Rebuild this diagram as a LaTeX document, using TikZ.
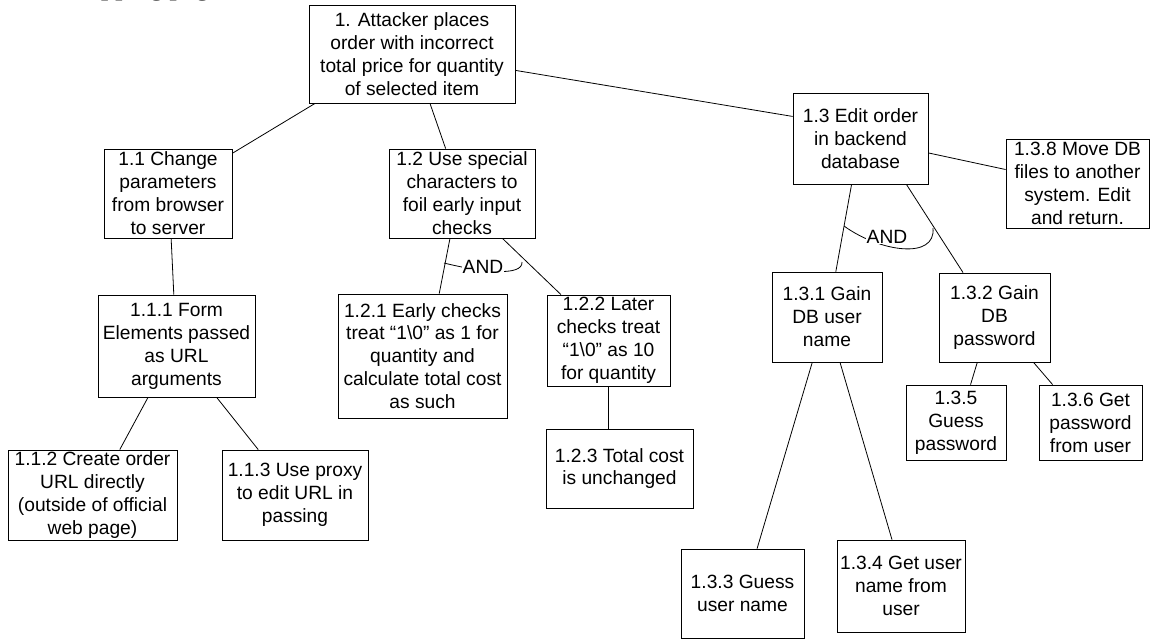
\documentclass[tikz,border=0pt]{standalone}
\usepackage{fontspec}
\setmainfont{Liberation Sans}
\newfontfamily\headfont{Liberation Serif}
\usetikzlibrary{positioning,calc}
\newcommand{\txt}{\fontsize{14.4}{17.2}\selectfont}

\begin{document}
\begin{tikzpicture}[x=0.75pt, y=-0.75pt, line width=0.6pt,
    box/.style={draw, align=center, inner sep=0pt, font=\txt},
    andlbl/.style={fill=white, inner sep=0.5pt, font=\txt}]
      \useasboundingbox (0,0) rectangle (1150,639);
      %heading, cut off at the top
      \node[anchor=base west, inner sep=0pt, font=\headfont\bfseries\fontsize{19}{22}\selectfont] (head) at (60,-4) {Shopping page};
      %nodes
      \node[box, minimum width=154.5pt, minimum height=73.5pt] (n1) at (412,54) {1. Attacker places\\order with incorrect\\total price for quantity\\of selected item};
      \node[box, minimum width=96pt, minimum height=66.75pt] (n11) at (168,193.5) {1.1 Change\\parameters\\from browser\\to server};
      \node[box, minimum width=117.75pt, minimum height=76.5pt] (n111) at (176.5,346) {1.1.1 Form\\Elements passed\\as URL\\arguments};
      \node[box, minimum width=126.75pt, minimum height=67.5pt] (n112) at (92.5,495) {1.1.2 Create order\\URL directly\\(outside of official\\web page)};
      \node[box, minimum width=109.5pt, minimum height=67.5pt] (n113) at (295,495) {1.1.3 Use proxy\\to edit URL in\\passing};
      \node[box, minimum width=109.5pt, minimum height=66.75pt] (n12) at (462,193.5) {1.2 Use special\\characters to\\foil early input\\checks};
      \node[box, minimum width=126.75pt, minimum height=93pt] (n121) at (422.5,356) {1.2.1 Early checks\\treat ``1\textbackslash 0'' as 1 for\\quantity and\\calculate total cost\\as such};
      \node[box, minimum width=92.25pt, minimum height=68.25pt] (n122) at (608.5,340.5) {1.2.2 Later\\checks treat\\``1\textbackslash 0'' as 10\\for quantity};
      \node[box, minimum width=110.25pt, minimum height=59.25pt] (n123) at (619.5,468.5) {1.2.3 Total cost\\is unchanged};
      \node[box, minimum width=101.25pt, minimum height=68.25pt] (n13) at (860.5,138.5) {1.3 Edit order\\in backend\\database};
      \node[box, minimum width=107.25pt, minimum height=66.75pt] (n138) at (1077.5,183.5) {1.3.8 Move DB\\files to another\\system.  Edit\\and return.};
      \node[box, minimum width=82.5pt, minimum height=67.5pt] (n131) at (827,317) {1.3.1 Gain\\DB user\\name};
      \node[box, minimum width=83.25pt, minimum height=66.75pt] (n132) at (994.5,317.5) {1.3.2 Gain\\DB\\password};
      \node[box, minimum width=92.25pt, minimum height=66.75pt] (n133) at (742.5,593.5) {1.3.3 Guess\\user name};
      \node[box, minimum width=96pt, minimum height=69pt] (n134) at (901,586) {1.3.4 Get user\\name from\\user};
      \node[box, minimum width=75pt, minimum height=56.25pt] (n135) at (956,422.5) {1.3.5\\Guess\\password};
      \node[box, minimum width=77.25pt, minimum height=56.25pt] (n136) at (1090.5,422.5) {1.3.6 Get\\password\\from user};
      %edges
      \path [draw] (n1.207) to (n11.32);
      \path [draw] (n1.290) to (n12.110);
      \path [draw] (n1.351) to (n13.162);
      \path [draw] (n11.274) to (n111.93);
      \path [draw] (n111.241) to (n112.59.5);
      \path [draw] (n111.308.5) to (n113.129.4);
      \path [draw] (n12.255) to (n121.75.1);
      \path [draw] (n12.312) to (n122.136.8);
      \path [draw] (n122.south) to (n122.south |- n123.north);
      \path [draw] (n13.259.4) to (n131.79.9);
      \path [draw] (n13.315.6) to (n132.125.3);
      \path [draw] (n13.348.7) to (n138.169.3);
      \path [draw] (n131.252.7) to (n133.72);
      \path [draw] (n131.286) to (n134.101);
      \path [draw] (n132.249.7) to (n135.69.5);
      \path [draw] (n132.311) to (n136.135.8);
      %AND arcs
      \draw (444,263) .. controls (480,272) and (523,277) .. (522,262);
      \node[andlbl] (and12) at (483,267) {AND};
      \draw (844,226) .. controls (880,252) and (936,260) .. (933,228);
      \node[andlbl] (and13) at (887,237) {AND};
    \end{tikzpicture}
\end{document}
